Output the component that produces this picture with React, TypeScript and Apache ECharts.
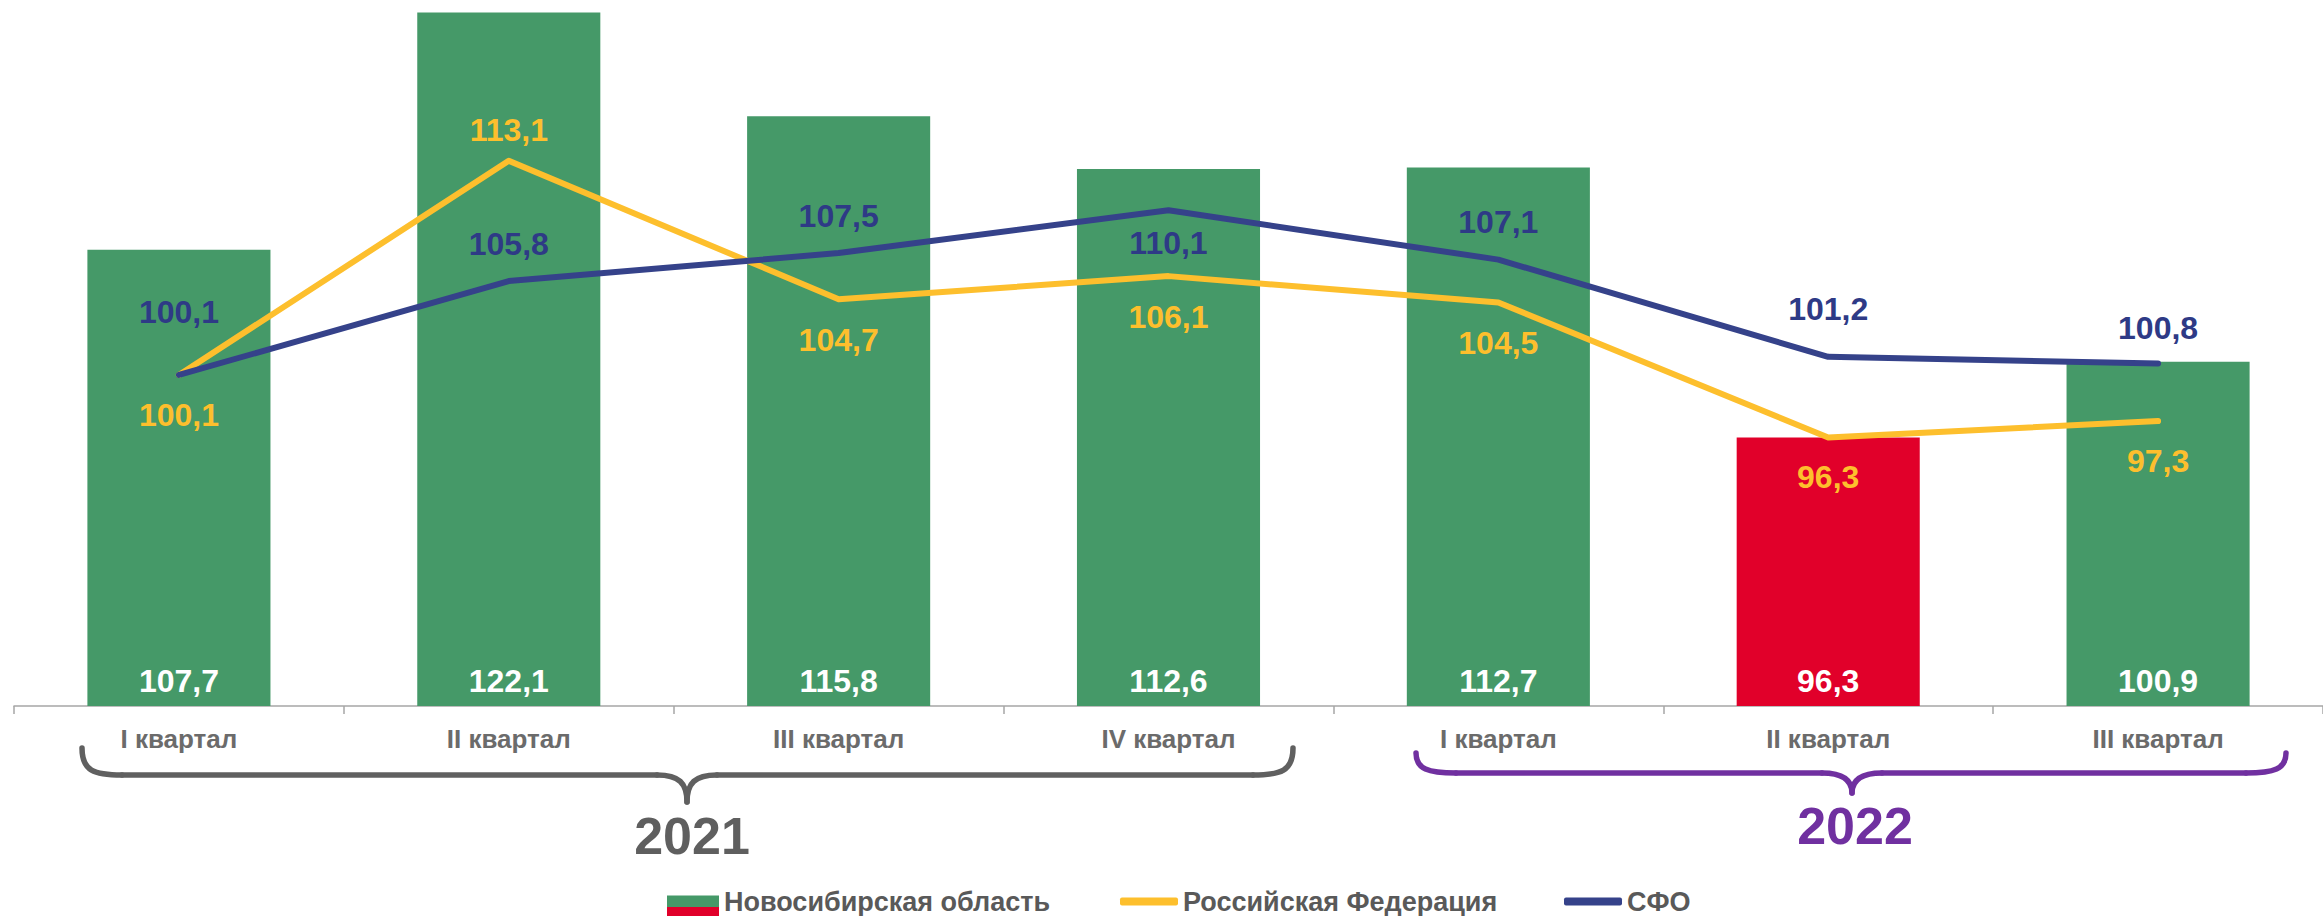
import React, { useEffect, useRef } from "react";
import * as echarts from "echarts";

const categories = ["I квартал", "II квартал", "III квартал", "IV квартал", "I квартал", "II квартал", "III квартал"];
const nsoValues = [107.7, 122.1, 115.8, 112.6, 112.7, 96.3, 100.9];
const rfValues = [100.1, 113.1, 104.7, 106.1, 104.5, 96.3, 97.3];
const sfoValues = [100.1, 105.8, 107.5, 110.1, 107.1, 101.2, 100.8];
const seriesNames = ["Новосибирская область", "Российская Федерация", "СФО"];
const yearLabels = ["2021", "2022"];

const FONT = "'Liberation Sans', Arial, sans-serif";
const GREEN = "#459968";
const RED = "#E1002A";
const YELLOW = "#FDBF2D";
const NAVY = "#35428A";
const NAVY_TEXT = "#2E3A86";
const GRAY_TEXT = "#6B6B6B";
const BRACE_GRAY = "#606060";
const PURPLE = "#7030A0";

const fmt = (v: number) => v.toFixed(1).replace(".", ",");

// label placement for line series (side, distance)
const rfPlacement: [string, number][] = [
  ["bottom", 24], ["top", 14], ["bottom", 24], ["bottom", 24], ["bottom", 24], ["bottom", 23], ["bottom", 23],
];
const sfoPlacement: [string, number][] = [
  ["top", 46], ["top", 21], ["top", 21], ["bottom", 16], ["top", 21], ["top", 31], ["top", 19],
];

function brace(x1: number, x2: number, cx: number, yTop: number, yMid: number, yTip: number, color: string, lw: number) {
  const r = 40;
  const r2 = 30;
  const style = { stroke: color, lineWidth: lw, fill: null as any, lineCap: "round" as any };
  return [
    { type: "bezierCurve", z: 50, shape: { x1: x1, y1: yTop, cpx1: x1, cpy1: yMid - 4, cpx2: x1 + 12, cpy2: yMid, x2: x1 + r, y2: yMid }, style },
    { type: "line", z: 50, shape: { x1: x1 + r, y1: yMid, x2: cx - r2, y2: yMid }, style },
    { type: "bezierCurve", z: 50, shape: { x1: cx - r2, y1: yMid, cpx1: cx - 8, cpy1: yMid, cpx2: cx, cpy2: yMid + 8, x2: cx, y2: yTip }, style },
    { type: "bezierCurve", z: 50, shape: { x1: cx + r2, y1: yMid, cpx1: cx + 8, cpy1: yMid, cpx2: cx, cpy2: yMid + 8, x2: cx, y2: yTip }, style },
    { type: "line", z: 50, shape: { x1: cx + r2, y1: yMid, x2: x2 - r, y2: yMid }, style },
    { type: "bezierCurve", z: 50, shape: { x1: x2, y1: yTop, cpx1: x2, cpy1: yMid - 4, cpx2: x2 - 12, cpy2: yMid, x2: x2 - r, y2: yMid }, style },
  ];
}

export default function App() {
  const ref = useRef<HTMLDivElement>(null);

  useEffect(() => {
    if (!ref.current) return;
    const chart = echarts.init(ref.current, undefined, { renderer: "svg" });

    const lineLabel = (color: string) => ({
      show: true,
      color,
      fontFamily: FONT,
      fontWeight: "bold",
      fontSize: 32,
      formatter: (p: any) => fmt(p.value),
    });

    const legendText = { color: "#595959", fontFamily: FONT, fontWeight: "bold", fontSize: 27 };

    const option: any = {
      animation: false,
      backgroundColor: "#ffffff",
      grid: { left: 14, top: 6, width: 2325, height: 700, containLabel: false },
      xAxis: {
        type: "category",
        data: categories,
        boundaryGap: true,
        axisLine: { show: true, lineStyle: { color: "#A6A6A6", width: 1.5 } },
        axisTick: { show: true, length: 8, lineStyle: { color: "#A6A6A6", width: 1.5 } },
        axisLabel: { color: GRAY_TEXT, fontFamily: FONT, fontWeight: "bold", fontSize: 26, margin: 20 },
        splitLine: { show: false },
      },
      yAxis: { type: "value", min: 80, max: 122.5, show: false, splitLine: { show: false } },
      legend: [
        {
          data: [seriesNames[0]], left: 667, top: 888, padding: 0, icon: "rect", itemWidth: 52, itemHeight: 12, itemGap: 0,
          textStyle: legendText,
        },
        {
          data: [seriesNames[1]], left: 1120, top: 888, padding: 0, icon: "roundRect", itemWidth: 58, itemHeight: 8, itemGap: 0,
          textStyle: legendText,
        },
        {
          data: [seriesNames[2]], left: 1564, top: 888, padding: 0, icon: "roundRect", itemWidth: 58, itemHeight: 8, itemGap: 0,
          textStyle: legendText,
        },
      ],
      series: [
        {
          name: seriesNames[0],
          type: "bar",
          barWidth: "55.5%",
          itemStyle: { color: GREEN },
          data: nsoValues.map((v) => ({ value: v, itemStyle: { color: v < 100 ? RED : GREEN } })),
          label: {
            show: true,
            position: "insideBottom",
            distance: 9,
            color: "#ffffff",
            fontFamily: FONT,
            fontWeight: "bold",
            fontSize: 32,
            formatter: (p: any) => fmt(p.value),
          },
          z: 2,
        },
        {
          name: seriesNames[1],
          type: "line",
          color: YELLOW,
          symbol: "circle",
          symbolSize: 1,
          lineStyle: { color: YELLOW, width: 6, cap: "round", join: "round" },
          itemStyle: { color: YELLOW },
          data: rfValues.map((v, i) => ({
            value: v,
            label: { position: rfPlacement[i][0], distance: rfPlacement[i][1] },
          })),
          label: lineLabel(YELLOW),
          z: 3,
        },
        {
          name: seriesNames[2],
          type: "line",
          color: NAVY,
          symbol: "circle",
          symbolSize: 1,
          lineStyle: { color: NAVY, width: 6, cap: "round", join: "round" },
          itemStyle: { color: NAVY },
          data: sfoValues.map((v, i) => ({
            value: v,
            label: { position: sfoPlacement[i][0], distance: sfoPlacement[i][1] },
          })),
          label: lineLabel(NAVY_TEXT),
          z: 4,
        },
      ],
      graphic: [
        ...brace(82, 1293, 687, 748, 775, 802, BRACE_GRAY, 5.5),
        ...brace(1416, 2286, 1852, 753, 773, 793, PURPLE, 5.5),
        {
          type: "text", z: 50, x: 692, y: 836,
          style: { text: yearLabels[0], fill: "#5F5F5F", font: `bold 52px ${FONT}`, textAlign: "center", textVerticalAlign: "middle" },
        },
        {
          type: "text", z: 50, x: 1855, y: 826,
          style: { text: yearLabels[1], fill: PURPLE, font: `bold 52px ${FONT}`, textAlign: "center", textVerticalAlign: "middle" },
        },
        { type: "rect", z: 100, shape: { x: 667, y: 907, width: 52, height: 12 }, style: { fill: RED } },
      ],
    };

    chart.setOption(option);
    return () => chart.dispose();
  }, []);

  return (
    <div
      ref={ref}
      style={{ position: "fixed", left: 0, top: 0, width: 2323, height: 916, background: "#ffffff" }}
    />
  );
}
